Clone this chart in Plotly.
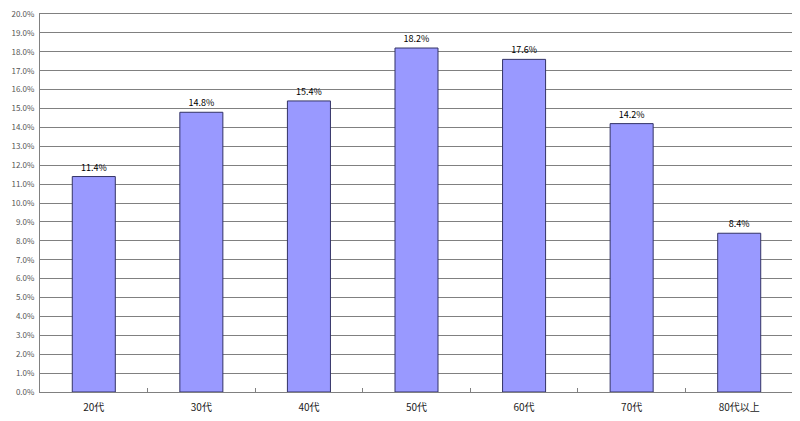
import plotly.graph_objects as go

# age groups and share (%)
age_groups = ['20代', '30代', '40代', '50代', '60代', '70代', '80代以上']
share_pct = [11.4, 14.8, 15.4, 18.2, 17.6, 14.2, 8.4]
label_text = [f'{v:.1f}%' for v in share_pct]
y_ticks = [i for i in range(0, 21)]
y_tick_labels = [f'{i:.1f}%' for i in y_ticks]

fig = go.Figure()
fig.add_bar(
    x=age_groups, y=share_pct,
    text=label_text, textposition='outside',
    textfont=dict(size=9, color='#000000'),
    marker=dict(color='#9999FF', line=dict(color='#333366', width=1)),
    width=0.4, cliponaxis=False,
)

# page body has an 8px margin, so the figure is a bit smaller than the window
fig.update_layout(
    width=792, height=413,
    margin=dict(l=32, r=7, t=6, b=29),
    paper_bgcolor='white', plot_bgcolor='white',
    font=dict(family='Noto Sans CJK JP, DejaVu Sans, sans-serif', size=9, color='#222222'),
    showlegend=False,
)
fig.update_xaxes(
    type='category', showline=True, linecolor='#808080', mirror=True,
    ticks='inside', ticklen=4, tickcolor='#808080', tickson='boundaries',
    tickfont=dict(size=10), showgrid=False, automargin=False,
    ticklabelstandoff=6,
)
fig.update_yaxes(
    range=[0, 20], tickvals=y_ticks, ticktext=y_tick_labels,
    showgrid=True, gridcolor='#808080', gridwidth=1,
    showline=True, linecolor='#808080', mirror=True,
    ticks='', zeroline=False, tickfont=dict(size=8, color='#555555'),
    automargin=False, ticklabelstandoff=3, ticklabeloverflow='allow',
)

fig.write_html('out.html')
